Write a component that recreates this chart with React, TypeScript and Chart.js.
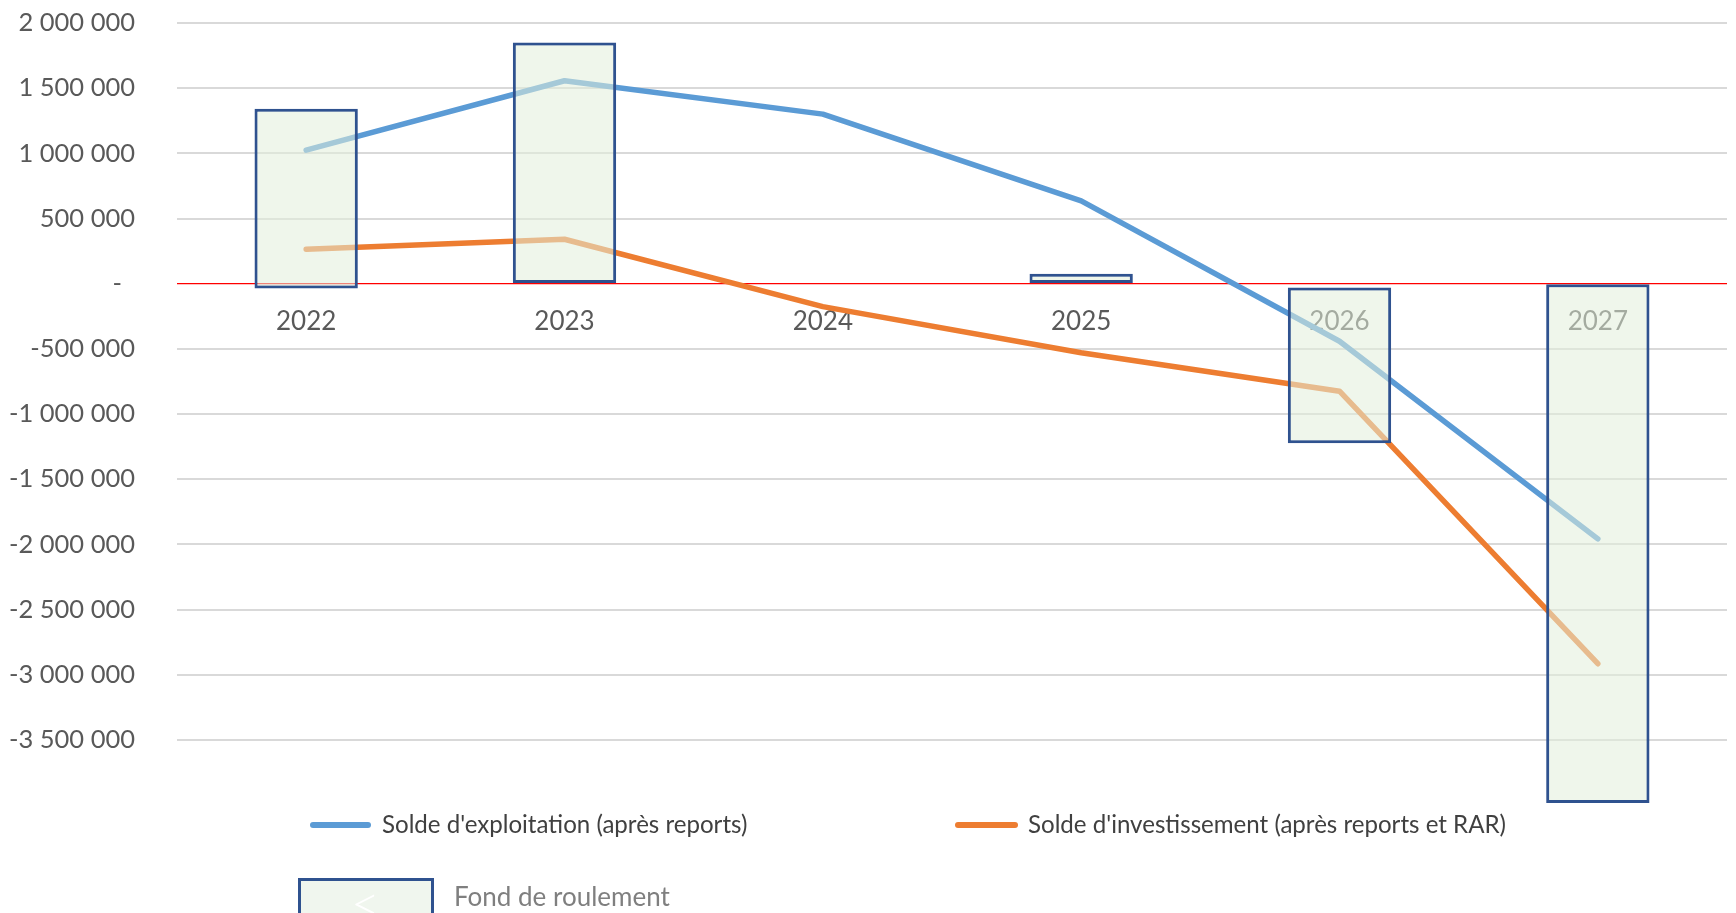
import React, { useEffect, useRef } from 'react';
import { Chart, registerables } from 'chart.js';

Chart.register(...registerables);

// ---- data ----
const categories = ['2022', '2023', '2024', '2025', '2026', '2027'];
const soldeExploitation = [1024000, 1557000, 1301000, 635000, -442000, -1958000];
const soldeInvestissement = [264000, 341000, -176000, -530000, -825000, -2916000];
const fondRoulementBas: (number | null)[] = [-38000, 0, null, 0, -30000, 0];
const fondRoulementHaut: (number | null)[] = [1343000, 1850000, null, 77000, -1225000, -3985000];
const legendLabels = [
  "Solde d'exploitation (après reports)",
  "Solde d'investissement (après reports et RAR)",
  'Fond de roulement',
];
const yMin = -4000000;
const yMax = 2000000;
const yStep = 500000;

const BLUE = '#5B9BD5';
const ORANGE = '#ED7D31';
const BAR_BORDER = '#2F528F';
const BAR_FILL = 'rgba(226,239,218,0.55)';
const FONT = 'Lato';

function formatTick(n: number): string {
  if (n === 0) return '-  ';
  if (n <= yMin) return '';
  const s = Math.abs(n).toString().replace(/\B(?=(\d{3})+(?!\d))/g, ' ');
  return (n < 0 ? '-' : '') + s;
}

export default function App() {
  const canvasRef = useRef<HTMLCanvasElement | null>(null);

  useEffect(() => {
    document.body.style.margin = '0';
    document.body.style.overflow = 'hidden';
    const canvas = canvasRef.current;
    if (!canvas) return;
    const floating = categories.map((_, i) =>
      fondRoulementBas[i] == null || fondRoulementHaut[i] == null
        ? null
        : [fondRoulementBas[i] as number, fondRoulementHaut[i] as number]
    );
    const chart = new Chart(canvas, {
      type: 'bar',
      data: {
        labels: categories,
        datasets: [
          {
            type: 'bar',
            label: legendLabels[2],
            data: floating as any,
            backgroundColor: BAR_FILL,
            borderColor: BAR_BORDER,
            borderWidth: 3,
            borderSkipped: false,
            barPercentage: 1,
            categoryPercentage: 0.4,
            order: 0,
          },
          {
            type: 'line',
            label: legendLabels[0],
            data: soldeExploitation,
            borderColor: BLUE,
            backgroundColor: BLUE,
            borderWidth: 5.5,
            borderCapStyle: 'round',
            borderJoinStyle: 'round',
            pointRadius: 0,
            tension: 0,
            order: 1,
          },
          {
            type: 'line',
            label: legendLabels[1],
            data: soldeInvestissement,
            borderColor: ORANGE,
            backgroundColor: ORANGE,
            borderWidth: 5.5,
            borderCapStyle: 'round',
            borderJoinStyle: 'round',
            pointRadius: 0,
            tension: 0,
            order: 2,
          },
        ],
      },
      options: {
        responsive: false,
        maintainAspectRatio: false,
        animation: false,
        devicePixelRatio: 1,
        layout: { padding: { left: 0, top: 23, right: 9, bottom: 108 } },
        plugins: {
          legend: { display: false },
          tooltip: { enabled: false },
        },
        scales: {
          x: {
            type: 'category',
            axis: 'x',
            position: { y: 0 } as any,
            offset: true,
            grid: { display: false, drawTicks: false },
            border: { display: false },
            ticks: {
              font: { family: FONT, size: 26 },
              color: '#595959',
              padding: 22,
              maxRotation: 0,
              autoSkip: false,
            },
            afterFit: (s: any) => {
              s.height = 0;
            },
          },
          y: {
            type: 'linear',
            min: yMin,
            max: yMax,
            border: { display: false },
            grid: {
              drawTicks: true,
              tickLength: 42,
              tickColor: 'rgba(0,0,0,0)',
              color: (ctx: any) => {
                const v = ctx.tick?.value;
                if (v === 0) return '#FF0000';
                if (v <= yMin) return 'rgba(0,0,0,0)';
                return '#D9D9D9';
              },
              lineWidth: (ctx: any) => (ctx.tick?.value === 0 ? 1.2 : 2),
            },
            ticks: {
              stepSize: yStep,
              font: { family: FONT, size: 25.5 },
              color: '#595959',
              padding: 0,
              callback: (v: any) => formatTick(Number(v)),
            },
            afterFit: (s: any) => {
              s.width = 177;
            },
          },
        },
      },
    });
    return () => chart.destroy();
  }, []);

  const textStyle: React.CSSProperties = {
    position: 'absolute',
    fontFamily: FONT,
    fontSize: 24.1,
    lineHeight: '30px',
    whiteSpace: 'nowrap',
  };

  return (
    <div style={{ position: 'relative', width: 1736, height: 913, overflow: 'hidden', background: '#fff' }}>
      <canvas ref={canvasRef} width={1736} height={913} style={{ display: 'block', width: 1736, height: 913 }} />
      <div style={{ position: 'absolute', left: 310, top: 822, width: 61, height: 6, borderRadius: 3, background: BLUE }} />
      <div style={{ ...textStyle, left: 382, top: 809, color: '#404040' }}>{legendLabels[0]}</div>
      <div style={{ position: 'absolute', left: 955, top: 822, width: 63, height: 6, borderRadius: 3, background: ORANGE }} />
      <div style={{ ...textStyle, left: 1028, top: 809, color: '#404040' }}>{legendLabels[1]}</div>
      <div
        style={{
          position: 'absolute',
          left: 298,
          top: 878,
          width: 136,
          height: 45,
          boxSizing: 'border-box',
          border: `3px solid ${BAR_BORDER}`,
          background: '#F0F6EE',
        }}
      >
        <div style={{ position: 'absolute', left: 50, top: -4, fontFamily: FONT, fontWeight: 300, fontSize: 50, color: '#FFFFFF', lineHeight: '50px' }}>&lt;</div>
      </div>
      <div style={{ ...textStyle, left: 454, top: 881, color: '#7F7F7F', fontSize: 26 }}>{legendLabels[2]}</div>
    </div>
  );
}
